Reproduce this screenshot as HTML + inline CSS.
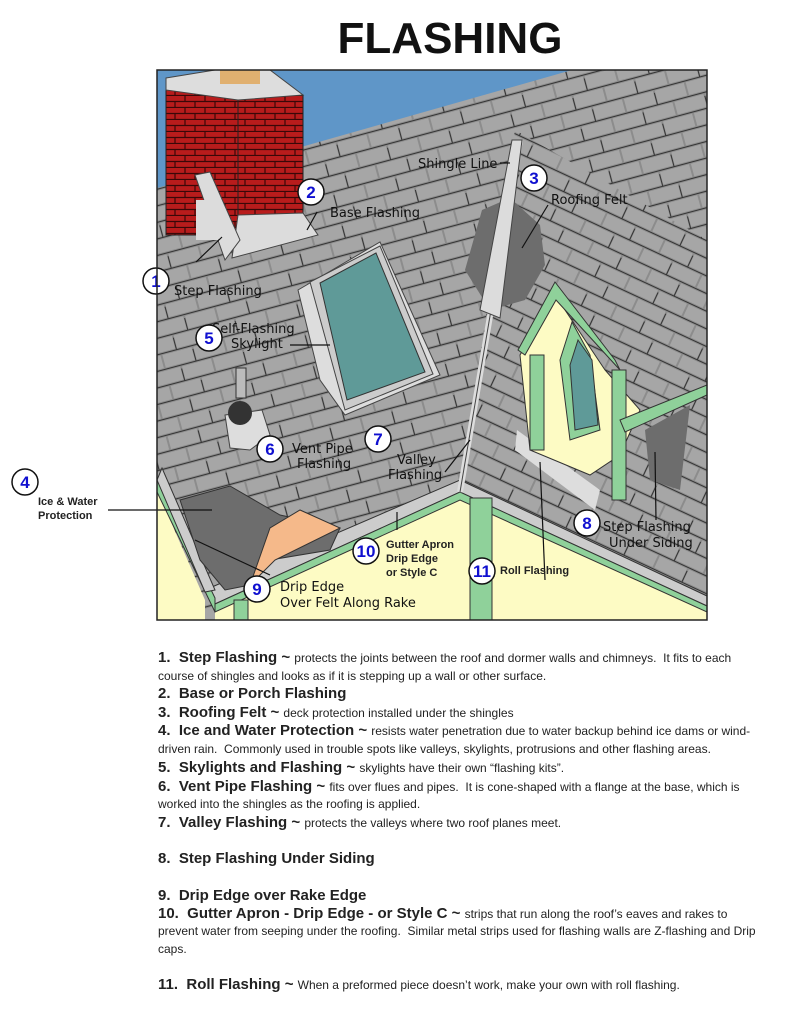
<!DOCTYPE html>
<html><head><meta charset="utf-8"><style>
html,body{margin:0;padding:0;background:#fff;}
body{width:800px;height:1020px;position:relative;overflow:hidden;font-family:"Liberation Sans",Arial,sans-serif;}
svg{position:absolute;left:0;top:0;}
.lbl{font-family:"DejaVu Sans","Liberation Sans",sans-serif;font-size:13px;fill:#111;}
.num{font-family:"Liberation Sans",sans-serif;font-weight:bold;font-size:17px;fill:#1010d0;text-anchor:middle;}
.b{font-weight:bold;font-size:15px;fill:#222;white-space:pre;}
.s{font-size:12px;fill:#222;white-space:pre;}
</style></head><body>
<svg width="800" height="1020" viewBox="0 0 800 1020">
<defs>
<pattern id="shL" width="64" height="32" patternUnits="userSpaceOnUse" patternTransform="rotate(-15)">
<rect width="64" height="32" fill="#8c8c8c"/>
<rect x="1" y="1" width="30" height="13" fill="#a6a6a6"/>
<rect x="33" y="1" width="30" height="13" fill="#a6a6a6"/>
<rect x="-15" y="17" width="30" height="13" fill="#a6a6a6"/>
<rect x="17" y="17" width="30" height="13" fill="#a6a6a6"/>
<rect x="49" y="17" width="30" height="13" fill="#a6a6a6"/>
<line x1="0" y1="15.5" x2="64" y2="15.5" stroke="#333" stroke-width="1"/>
<line x1="0" y1="31.5" x2="64" y2="31.5" stroke="#333" stroke-width="1"/>
<line x1="32" y1="3" x2="32" y2="15" stroke="#333" stroke-width="1"/>
<line x1="16" y1="19" x2="16" y2="31" stroke="#333" stroke-width="1"/>
</pattern>
<pattern id="shR" width="64" height="32" patternUnits="userSpaceOnUse" patternTransform="rotate(25)">
<rect width="64" height="32" fill="#8c8c8c"/>
<rect x="1" y="1" width="30" height="13" fill="#a6a6a6"/>
<rect x="33" y="1" width="30" height="13" fill="#a6a6a6"/>
<rect x="-15" y="17" width="30" height="13" fill="#a6a6a6"/>
<rect x="17" y="17" width="30" height="13" fill="#a6a6a6"/>
<rect x="49" y="17" width="30" height="13" fill="#a6a6a6"/>
<line x1="0" y1="15.5" x2="64" y2="15.5" stroke="#333" stroke-width="1"/>
<line x1="0" y1="31.5" x2="64" y2="31.5" stroke="#333" stroke-width="1"/>
<line x1="32" y1="3" x2="32" y2="15" stroke="#333" stroke-width="1"/>
<line x1="16" y1="19" x2="16" y2="31" stroke="#333" stroke-width="1"/>
</pattern>
<pattern id="brick" width="20" height="12" patternUnits="userSpaceOnUse">
<rect width="20" height="12" fill="#b81c1c"/>
<line x1="0" y1="5.5" x2="20" y2="5.5" stroke="#3a0808" stroke-width="1.2"/>
<line x1="0" y1="11.5" x2="20" y2="11.5" stroke="#3a0808" stroke-width="1.2"/>
<line x1="5" y1="0" x2="5" y2="6" stroke="#3a0808" stroke-width="1.2"/>
<line x1="15" y1="6" x2="15" y2="12" stroke="#3a0808" stroke-width="1.2"/>
</pattern>
</defs>
<text x="450" y="53" text-anchor="middle" font-family="Liberation Sans" font-weight="bold" font-size="44" fill="#111">FLASHING</text>
<rect x="157" y="70" width="550" height="550" fill="url(#shL)"/>
<polygon points="157,70 572,70 157,188" fill="#5f96c8"/>
<polygon points="515,130 707,240 707,610 460,490 470,420" fill="url(#shR)"/>
<polygon points="215,600 460,490 707,610 707,620 215,620" fill="#fdfbc4"/>
<polygon points="157,490 157,620 205,620 205,600" fill="#fdfbc4"/>
<polygon points="205,590 460,480 707,596 707,606 460,492 215,604" fill="#ccc" stroke="#333" stroke-width="1"/>
<polygon points="215,604 460,492 707,606 707,612 460,500 215,612" fill="#8fd19a" stroke="#333" stroke-width="1"/>
<polygon points="157,478 215,598 215,612 157,492" fill="#8fd19a" stroke="#333"/>
<polygon points="162,468 215,590 205,592 157,480" fill="#ccc" stroke="#333"/>
<rect x="470" y="498" width="22" height="122" fill="#8fd19a" stroke="#333"/>
<rect x="234" y="600" width="14" height="20" fill="#8fd19a" stroke="#333"/>
<polygon points="180,500 230,486 280,515 340,528 330,550 270,560 250,585 225,590 200,560" fill="#6d6d6d" stroke="#333"/>
<polygon points="250,585 270,528 300,510 340,528 275,560" fill="#f5b98a" stroke="#333"/>
<line x1="520" y1="140" x2="460" y2="492" stroke="#ddd" stroke-width="6"/>
<line x1="520" y1="140" x2="460" y2="492" stroke="#444" stroke-width="1"/>
<polygon points="482,210 510,198 540,225 545,265 525,300 490,310 465,270" fill="#6d6d6d"/>
<polygon points="512,140 522,140 500,318 480,310" fill="#dcdcdc" stroke="#444"/>
<polygon points="166,90 238,80 238,235 166,235" fill="url(#brick)" stroke="#222"/>
<polygon points="238,80 303,95 303,215 238,235" fill="url(#brick)" stroke="#222"/>
<polygon points="166,78 215,70 270,70 303,95 238,100 166,90" fill="#ddd" stroke="#444"/>
<rect x="220" y="70" width="40" height="14" fill="#e0b070"/>
<polygon points="238,215 303,213 318,235 232,258" fill="#dcdcdc" stroke="#444"/>
<polygon points="195,175 210,172 240,240 225,260" fill="#dcdcdc" stroke="#444"/>
<rect x="196" y="200" width="22" height="40" fill="#dcdcdc"/>
<polygon points="298,290 380,242 440,375 345,415 320,380" fill="#ddd" stroke="#444"/>
<polygon points="310,282 380,246 433,374 345,410" fill="#ccc" stroke="#444"/>
<polygon points="320,283 376,253 425,372 347,400" fill="#5f9a98" stroke="#333"/>
<polygon points="225,415 262,410 270,435 250,450 230,448" fill="#ddd" stroke="#444"/>
<rect x="236" y="368" width="10" height="30" fill="#bbb" stroke="#333"/>
<circle cx="240" cy="413" r="12" fill="#333"/>
<polygon points="517,430 600,490 595,510 515,450" fill="#ddd"/>
<polygon points="555,295 520,355 530,450 590,475 620,455 640,410 605,370" fill="#fdfbc4" stroke="#333"/>
<polygon points="555,282 615,360 620,370 556,300 525,355 518,350" fill="#8fd19a" stroke="#333"/>
<rect x="530" y="355" width="14" height="95" fill="#8fd19a" stroke="#333"/>
<polygon points="572,322 590,355 600,430 570,440 560,360" fill="#8fd19a" stroke="#333"/>
<polygon points="578,340 592,360 598,425 575,430 570,365" fill="#5f9a98" stroke="#333"/>
<rect x="612" y="370" width="14" height="130" fill="#8fd19a" stroke="#333"/>
<polygon points="620,420 707,385 707,395 625,432" fill="#8fd19a" stroke="#333"/>
<polygon points="645,430 690,405 680,490 650,480" fill="#6d6d6d"/>
<g stroke="#111" stroke-width="1.2" fill="none">
<line x1="108" y1="510" x2="212" y2="510"/>
<line x1="196" y1="262" x2="222" y2="237"/>
<line x1="317" y1="212" x2="307" y2="230"/>
<line x1="500" y1="163" x2="510" y2="163"/>
<line x1="548" y1="205" x2="522" y2="248"/>
<line x1="290" y1="345" x2="330" y2="345"/>
<line x1="545" y1="580" x2="540" y2="462"/>
<line x1="656" y1="520" x2="655" y2="452"/>
<line x1="397" y1="530" x2="397" y2="512"/>
<line x1="445" y1="472" x2="470" y2="440"/>
<line x1="195" y1="540" x2="270" y2="575"/>
</g>
<text class="lbl" x="418" y="168">Shingle Line</text>
<text class="lbl" x="551" y="204">Roofing Felt</text>
<text class="lbl" x="330" y="217">Base Flashing</text>
<text class="lbl" x="174" y="295">Step Flashing</text>
<text class="lbl" x="212" y="333">Self-Flashing</text>
<text class="lbl" x="231" y="348">Skylight</text>
<text class="lbl" x="292" y="453">Vent Pipe</text>
<text class="lbl" x="297" y="468">Flashing</text>
<text class="lbl" x="397" y="464">Valley</text>
<text class="lbl" x="388" y="479">Flashing</text>
<text class="lbl" x="603" y="531">Step Flashing</text>
<text class="lbl" x="609" y="547">Under Siding</text>
<text class="lbl" x="280" y="591">Drip Edge</text>
<text class="lbl" x="280" y="607">Over Felt Along Rake</text>
<g font-family="Liberation Sans" font-weight="bold" font-size="11" fill="#222">
<text x="386" y="548">Gutter Apron</text>
<text x="386" y="562">Drip Edge</text>
<text x="386" y="576">or Style C</text>
<text x="500" y="574">Roll Flashing</text>
<text x="38" y="505">Ice &amp; Water</text>
<text x="38" y="519">Protection</text>
</g>
<g fill="#fff" stroke="#111" stroke-width="1.5">
<circle cx="156" cy="281" r="13"/><circle cx="311" cy="192" r="13"/><circle cx="534" cy="178" r="13"/>
<circle cx="25" cy="482" r="13"/><circle cx="209" cy="338" r="13"/><circle cx="270" cy="449" r="13"/>
<circle cx="378" cy="439" r="13"/><circle cx="587" cy="523" r="13"/><circle cx="257" cy="589" r="13"/>
<circle cx="366" cy="551" r="13"/><circle cx="482" cy="571" r="13"/>
</g>
<g class="num">
<text x="156" y="287">1</text><text x="311" y="198">2</text><text x="534" y="184">3</text>
<text x="25" y="488">4</text><text x="209" y="344">5</text><text x="270" y="455">6</text>
<text x="378" y="445">7</text><text x="587" y="529">8</text><text x="257" y="595">9</text>
<text x="366" y="557">10</text><text x="482" y="577">11</text>
</g>
<rect x="157" y="70" width="550" height="550" fill="none" stroke="#222" stroke-width="1.5"/>
<g font-family="Liberation Sans">
<text x="158" y="662"><tspan class="b">1.  Step Flashing ~ </tspan><tspan class="s">protects the joints between the roof and dormer walls and chimneys.  It fits to each</tspan></text>
<text class="s" x="158" y="680">course of shingles and looks as if it is stepping up a wall or other surface.</text>
<text class="b" x="158" y="698">2.  Base or Porch Flashing</text>
<text x="158" y="717"><tspan class="b">3.  Roofing Felt ~ </tspan><tspan class="s">deck protection installed under the shingles</tspan></text>
<text x="158" y="735"><tspan class="b">4.  Ice and Water Protection ~ </tspan><tspan class="s">resists water penetration due to water backup behind ice dams or wind-</tspan></text>
<text class="s" x="158" y="753">driven rain.  Commonly used in trouble spots like valleys, skylights, protrusions and other flashing areas.</text>
<text x="158" y="772"><tspan class="b">5.  Skylights and Flashing ~ </tspan><tspan class="s">skylights have their own “flashing kits”.</tspan></text>
<text x="158" y="791"><tspan class="b">6.  Vent Pipe Flashing ~ </tspan><tspan class="s">fits over flues and pipes.  It is cone-shaped with a flange at the base, which is</tspan></text>
<text class="s" x="158" y="808">worked into the shingles as the roofing is applied.</text>
<text x="158" y="827"><tspan class="b">7.  Valley Flashing ~ </tspan><tspan class="s">protects the valleys where two roof planes meet.</tspan></text>
<text class="b" x="158" y="863">8.  Step Flashing Under Siding</text>
<text class="b" x="158" y="900">9.  Drip Edge over Rake Edge</text>
<text x="158" y="918"><tspan class="b">10.  Gutter Apron - Drip Edge - or Style C ~ </tspan><tspan class="s">strips that run along the roof’s eaves and rakes to</tspan></text>
<text class="s" x="158" y="935">prevent water from seeping under the roofing.  Similar metal strips used for flashing walls are Z-flashing and Drip</text>
<text class="s" x="158" y="953">caps.</text>
<text x="158" y="989"><tspan class="b">11.  Roll Flashing ~ </tspan><tspan class="s">When a preformed piece doesn’t work, make your own with roll flashing.</tspan></text>
</g>
</svg>
</body></html>
